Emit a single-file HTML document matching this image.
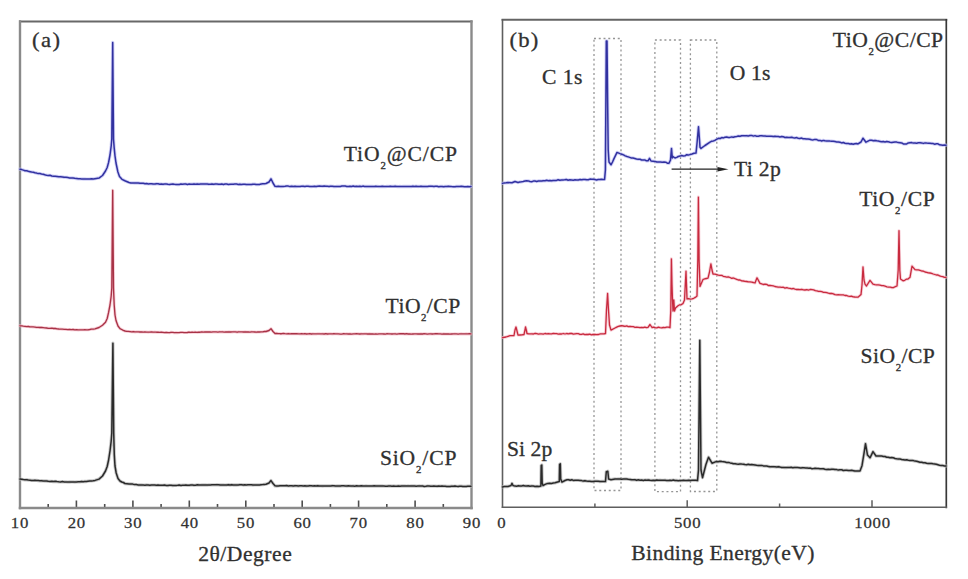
<!DOCTYPE html><html><head><meta charset="utf-8"><style>html,body{margin:0;padding:0;background:#fff;}svg{display:block;font-family:"Liberation Serif",serif;}</style></head><body>
<svg width="968" height="579" viewBox="0 0 968 579">
<rect width="968" height="579" fill="#fff"/>
<line x1="48.2" y1="508" x2="48.2" y2="504" stroke="#4e4e4e" stroke-width="1.6"/>
<line x1="76.4" y1="508" x2="76.4" y2="500.5" stroke="#4e4e4e" stroke-width="1.6"/>
<line x1="104.7" y1="508" x2="104.7" y2="504" stroke="#4e4e4e" stroke-width="1.6"/>
<line x1="132.9" y1="508" x2="132.9" y2="500.5" stroke="#4e4e4e" stroke-width="1.6"/>
<line x1="161.1" y1="508" x2="161.1" y2="504" stroke="#4e4e4e" stroke-width="1.6"/>
<line x1="189.3" y1="508" x2="189.3" y2="500.5" stroke="#4e4e4e" stroke-width="1.6"/>
<line x1="217.5" y1="508" x2="217.5" y2="504" stroke="#4e4e4e" stroke-width="1.6"/>
<line x1="245.8" y1="508" x2="245.8" y2="500.5" stroke="#4e4e4e" stroke-width="1.6"/>
<line x1="274.0" y1="508" x2="274.0" y2="504" stroke="#4e4e4e" stroke-width="1.6"/>
<line x1="302.2" y1="508" x2="302.2" y2="500.5" stroke="#4e4e4e" stroke-width="1.6"/>
<line x1="330.4" y1="508" x2="330.4" y2="504" stroke="#4e4e4e" stroke-width="1.6"/>
<line x1="358.6" y1="508" x2="358.6" y2="500.5" stroke="#4e4e4e" stroke-width="1.6"/>
<line x1="386.8" y1="508" x2="386.8" y2="504" stroke="#4e4e4e" stroke-width="1.6"/>
<line x1="415.1" y1="508" x2="415.1" y2="500.5" stroke="#4e4e4e" stroke-width="1.6"/>
<line x1="443.3" y1="508" x2="443.3" y2="504" stroke="#4e4e4e" stroke-width="1.6"/>
<line x1="20" y1="21.5" x2="471.5" y2="21.5" stroke="#686868" stroke-width="1.9" stroke-linecap="square"/>
<line x1="20" y1="21.5" x2="20" y2="508" stroke="#8a8a8a" stroke-width="2.4" stroke-linecap="square"/>
<line x1="471.5" y1="21.5" x2="471.5" y2="508" stroke="#8a8a8a" stroke-width="2.4" stroke-linecap="square"/>
<line x1="20" y1="508" x2="471.5" y2="508" stroke="#8a8a8a" stroke-width="2.5" stroke-linecap="square"/>
<line x1="594.9" y1="507.3" x2="594.9" y2="503.5" stroke="#5e5e5e" stroke-width="1.5"/>
<line x1="687.2" y1="507.3" x2="687.2" y2="500.3" stroke="#5e5e5e" stroke-width="1.5"/>
<line x1="779.6" y1="507.3" x2="779.6" y2="503.5" stroke="#5e5e5e" stroke-width="1.5"/>
<line x1="872.0" y1="507.3" x2="872.0" y2="500.3" stroke="#5e5e5e" stroke-width="1.5"/>
<line x1="502.5" y1="19.8" x2="946.3" y2="19.8" stroke="#646464" stroke-width="1.9" stroke-linecap="square"/>
<line x1="502.5" y1="19.8" x2="502.5" y2="507.3" stroke="#5e5e5e" stroke-width="1.6" stroke-linecap="square"/>
<line x1="946.3" y1="19.8" x2="946.3" y2="507.3" stroke="#383838" stroke-width="1.7" stroke-linecap="square"/>
<line x1="502.5" y1="507.3" x2="946.3" y2="507.3" stroke="#5e5e5e" stroke-width="1.6" stroke-linecap="square"/>
<rect x="594" y="38.5" width="27" height="452" fill="none" stroke="#959595" stroke-width="1.3" stroke-dasharray="2 2.75"/>
<rect x="654.9" y="40" width="25.6" height="451.6" fill="none" stroke="#959595" stroke-width="1.3" stroke-dasharray="2 2.75"/>
<rect x="690.4" y="40" width="26.4" height="451.5" fill="none" stroke="#959595" stroke-width="1.3" stroke-dasharray="2 2.75"/>
<polyline points="20.0,169.2 21.7,169.6 23.3,170.1 25.0,170.7 26.7,170.8 28.3,171.3 30.0,171.7 31.6,172.1 33.3,172.2 34.9,172.7 36.6,173.1 38.2,173.6 39.9,173.6 41.5,174.0 43.2,174.3 44.8,174.8 46.5,175.2 48.3,175.4 50.0,175.3 51.8,176.0 53.5,176.2 55.3,176.3 57.0,176.5 58.8,176.8 60.6,176.7 62.4,176.9 64.2,177.3 66.0,177.3 67.8,177.5 69.6,177.9 71.3,177.9 73.1,178.0 74.8,178.3 76.5,178.5 78.3,178.8 80.0,178.8 81.6,178.9 83.3,179.0 84.9,179.0 86.6,179.1 88.2,179.1 89.9,179.0 91.6,178.8 93.3,179.0 95.0,178.7 99.3,177.9 102.5,175.5 105.5,171.0 107.2,167.5 108.6,162.4 110.0,155.0 111.2,146.0 111.8,139.0 112.7,42.5 113.5,139.0 114.2,148.0 115.0,156.0 116.0,163.0 117.9,172.0 119.5,176.5 122.0,179.3 125.4,181.0 129.0,182.5 130.8,182.9 132.7,182.9 134.5,183.0 136.3,182.9 138.2,183.0 140.0,183.3 141.7,183.3 143.3,183.3 145.0,183.7 146.7,183.6 148.3,183.9 150.0,183.8 151.6,183.8 153.2,184.1 154.9,184.1 156.5,183.7 158.1,183.8 159.8,184.2 161.4,184.0 163.0,184.3 164.6,184.1 166.2,184.0 167.9,184.3 169.5,184.4 171.1,184.2 172.8,184.1 174.4,184.3 176.0,184.4 177.6,184.6 179.3,184.5 180.9,184.1 182.6,184.2 184.2,184.1 185.8,184.0 187.5,184.4 189.1,184.1 190.8,184.2 192.4,184.2 194.0,184.0 195.7,184.2 197.3,183.9 198.9,184.2 200.6,183.9 202.2,184.0 203.9,183.9 205.5,184.0 207.1,183.9 208.8,184.3 210.4,184.2 212.0,184.0 213.7,184.3 215.3,184.0 216.9,184.1 218.6,184.3 220.2,184.3 221.8,184.0 223.5,184.5 225.1,184.1 226.7,184.1 228.4,184.4 230.0,184.3 231.6,184.2 233.3,184.2 234.9,184.1 236.6,184.1 238.2,184.4 239.8,184.2 241.5,184.4 243.1,184.3 244.8,184.3 246.4,184.6 248.0,184.4 249.7,184.4 251.3,184.6 252.9,184.2 254.6,184.2 256.2,184.6 257.9,184.6 259.5,184.4 261.1,184.0 262.8,183.8 264.4,183.8 266.0,183.5 269.0,182.0 271.0,178.8 273.0,183.0 275.0,186.3 276.7,186.5 278.3,186.2 280.0,186.5 281.7,186.5 283.3,186.4 285.0,186.3 286.7,186.1 288.3,186.1 290.0,186.6 291.7,186.2 293.3,186.5 295.0,186.3 296.7,186.5 298.3,186.4 300.0,186.4 301.6,186.3 303.2,186.2 304.8,186.5 306.5,186.2 308.1,186.2 309.7,186.4 311.3,186.6 312.9,186.4 314.5,186.3 316.1,186.6 317.7,186.2 319.4,186.1 321.0,186.2 322.6,186.3 324.2,186.1 325.8,186.2 327.4,186.3 329.0,186.4 330.6,186.2 332.3,186.3 333.9,186.5 335.5,186.6 337.1,186.4 338.7,186.4 340.3,186.4 341.9,186.1 343.5,186.1 345.2,186.1 346.8,186.5 348.4,186.4 350.0,186.3 351.6,186.5 353.2,186.1 354.8,186.4 356.5,186.3 358.1,186.4 359.7,186.2 361.3,186.6 362.9,186.1 364.5,186.4 366.1,186.5 367.7,186.5 369.4,186.5 371.0,186.4 372.6,186.5 374.2,186.6 375.8,186.3 377.4,186.4 379.0,186.6 380.6,186.5 382.3,186.3 383.9,186.5 385.5,186.6 387.1,186.4 388.7,186.4 390.3,186.3 391.9,186.4 393.5,186.4 395.2,186.2 396.8,186.5 398.4,186.6 400.0,186.4 401.6,186.6 403.2,186.5 404.8,186.4 406.5,186.5 408.1,186.5 409.7,186.4 411.3,186.6 412.9,186.2 414.5,186.5 416.1,186.2 417.8,186.5 419.4,186.4 421.0,186.3 422.6,186.5 424.2,186.4 425.8,186.5 427.4,186.6 429.0,186.3 430.7,186.2 432.3,186.3 433.9,186.5 435.5,186.3 437.1,186.3 438.7,186.7 440.3,186.5 442.0,186.4 443.6,186.7 445.2,186.4 446.8,186.5 448.4,186.3 450.0,186.4 451.6,186.6 453.2,186.7 454.9,186.7 456.5,186.4 458.1,186.5 459.7,186.4 461.3,186.3 462.9,186.5 464.5,186.7 466.2,186.7 467.8,186.6 469.4,186.7 471.0,186.5" fill="none" stroke="#bcbcf2" stroke-width="3.3" stroke-linejoin="round" stroke-linecap="round" opacity="0.7"/><polyline points="20.0,169.2 21.7,169.6 23.3,170.1 25.0,170.7 26.7,170.8 28.3,171.3 30.0,171.7 31.6,172.1 33.3,172.2 34.9,172.7 36.6,173.1 38.2,173.6 39.9,173.6 41.5,174.0 43.2,174.3 44.8,174.8 46.5,175.2 48.3,175.4 50.0,175.3 51.8,176.0 53.5,176.2 55.3,176.3 57.0,176.5 58.8,176.8 60.6,176.7 62.4,176.9 64.2,177.3 66.0,177.3 67.8,177.5 69.6,177.9 71.3,177.9 73.1,178.0 74.8,178.3 76.5,178.5 78.3,178.8 80.0,178.8 81.6,178.9 83.3,179.0 84.9,179.0 86.6,179.1 88.2,179.1 89.9,179.0 91.6,178.8 93.3,179.0 95.0,178.7 99.3,177.9 102.5,175.5 105.5,171.0 107.2,167.5 108.6,162.4 110.0,155.0 111.2,146.0 111.8,139.0 112.7,42.5 113.5,139.0 114.2,148.0 115.0,156.0 116.0,163.0 117.9,172.0 119.5,176.5 122.0,179.3 125.4,181.0 129.0,182.5 130.8,182.9 132.7,182.9 134.5,183.0 136.3,182.9 138.2,183.0 140.0,183.3 141.7,183.3 143.3,183.3 145.0,183.7 146.7,183.6 148.3,183.9 150.0,183.8 151.6,183.8 153.2,184.1 154.9,184.1 156.5,183.7 158.1,183.8 159.8,184.2 161.4,184.0 163.0,184.3 164.6,184.1 166.2,184.0 167.9,184.3 169.5,184.4 171.1,184.2 172.8,184.1 174.4,184.3 176.0,184.4 177.6,184.6 179.3,184.5 180.9,184.1 182.6,184.2 184.2,184.1 185.8,184.0 187.5,184.4 189.1,184.1 190.8,184.2 192.4,184.2 194.0,184.0 195.7,184.2 197.3,183.9 198.9,184.2 200.6,183.9 202.2,184.0 203.9,183.9 205.5,184.0 207.1,183.9 208.8,184.3 210.4,184.2 212.0,184.0 213.7,184.3 215.3,184.0 216.9,184.1 218.6,184.3 220.2,184.3 221.8,184.0 223.5,184.5 225.1,184.1 226.7,184.1 228.4,184.4 230.0,184.3 231.6,184.2 233.3,184.2 234.9,184.1 236.6,184.1 238.2,184.4 239.8,184.2 241.5,184.4 243.1,184.3 244.8,184.3 246.4,184.6 248.0,184.4 249.7,184.4 251.3,184.6 252.9,184.2 254.6,184.2 256.2,184.6 257.9,184.6 259.5,184.4 261.1,184.0 262.8,183.8 264.4,183.8 266.0,183.5 269.0,182.0 271.0,178.8 273.0,183.0 275.0,186.3 276.7,186.5 278.3,186.2 280.0,186.5 281.7,186.5 283.3,186.4 285.0,186.3 286.7,186.1 288.3,186.1 290.0,186.6 291.7,186.2 293.3,186.5 295.0,186.3 296.7,186.5 298.3,186.4 300.0,186.4 301.6,186.3 303.2,186.2 304.8,186.5 306.5,186.2 308.1,186.2 309.7,186.4 311.3,186.6 312.9,186.4 314.5,186.3 316.1,186.6 317.7,186.2 319.4,186.1 321.0,186.2 322.6,186.3 324.2,186.1 325.8,186.2 327.4,186.3 329.0,186.4 330.6,186.2 332.3,186.3 333.9,186.5 335.5,186.6 337.1,186.4 338.7,186.4 340.3,186.4 341.9,186.1 343.5,186.1 345.2,186.1 346.8,186.5 348.4,186.4 350.0,186.3 351.6,186.5 353.2,186.1 354.8,186.4 356.5,186.3 358.1,186.4 359.7,186.2 361.3,186.6 362.9,186.1 364.5,186.4 366.1,186.5 367.7,186.5 369.4,186.5 371.0,186.4 372.6,186.5 374.2,186.6 375.8,186.3 377.4,186.4 379.0,186.6 380.6,186.5 382.3,186.3 383.9,186.5 385.5,186.6 387.1,186.4 388.7,186.4 390.3,186.3 391.9,186.4 393.5,186.4 395.2,186.2 396.8,186.5 398.4,186.6 400.0,186.4 401.6,186.6 403.2,186.5 404.8,186.4 406.5,186.5 408.1,186.5 409.7,186.4 411.3,186.6 412.9,186.2 414.5,186.5 416.1,186.2 417.8,186.5 419.4,186.4 421.0,186.3 422.6,186.5 424.2,186.4 425.8,186.5 427.4,186.6 429.0,186.3 430.7,186.2 432.3,186.3 433.9,186.5 435.5,186.3 437.1,186.3 438.7,186.7 440.3,186.5 442.0,186.4 443.6,186.7 445.2,186.4 446.8,186.5 448.4,186.3 450.0,186.4 451.6,186.6 453.2,186.7 454.9,186.7 456.5,186.4 458.1,186.5 459.7,186.4 461.3,186.3 462.9,186.5 464.5,186.7 466.2,186.7 467.8,186.6 469.4,186.7 471.0,186.5" fill="none" stroke="#3131a0" stroke-width="1.5" stroke-linejoin="round" stroke-linecap="round"/>
<polyline points="20.0,325.8 21.7,325.9 23.3,326.2 25.0,326.4 26.7,326.6 28.3,326.5 30.0,326.8 31.6,326.8 33.3,326.9 34.9,327.1 36.6,327.4 38.2,327.3 39.9,327.5 41.5,327.5 43.2,327.7 44.8,327.9 46.5,328.0 48.3,328.3 50.0,328.3 51.8,328.2 53.5,328.5 55.3,328.5 57.0,328.8 58.8,329.0 60.6,329.1 62.4,329.2 64.2,329.3 66.0,329.4 67.8,329.6 69.6,329.5 71.3,329.7 73.1,329.5 74.8,329.8 76.5,329.7 78.3,329.9 80.0,329.8 81.6,329.8 83.2,329.8 84.8,329.7 86.4,329.8 88.0,329.8 89.8,329.5 91.5,329.1 93.2,329.2 95.0,328.8 99.0,327.5 102.5,325.3 105.5,322.3 107.2,318.5 108.6,312.4 110.0,305.0 111.2,296.0 111.8,288.0 112.7,190.3 113.5,288.0 114.2,305.0 115.0,315.0 116.0,320.5 118.0,326.0 120.0,328.6 121.7,329.5 123.3,330.4 125.0,331.0 126.7,331.3 128.3,331.4 130.0,331.6 131.7,331.8 133.3,331.6 135.0,331.9 136.7,331.8 138.3,331.8 140.0,332.0 141.6,331.9 143.3,332.1 144.9,332.0 146.5,332.1 148.2,332.2 149.8,332.1 151.5,332.0 153.1,332.2 154.7,332.1 156.4,332.2 158.0,332.2 159.6,332.3 161.3,332.2 162.9,332.4 164.5,332.6 166.2,332.4 167.8,332.6 169.5,332.7 171.1,332.3 172.7,332.4 174.4,332.7 176.0,332.6 177.6,332.7 179.2,332.6 180.8,332.4 182.4,332.4 184.1,332.6 185.7,332.6 187.3,332.5 188.9,332.2 190.5,332.4 192.1,332.2 193.7,332.3 195.3,332.1 196.9,332.4 198.6,332.2 200.2,332.2 201.8,332.0 203.4,332.1 205.0,332.0 206.6,332.0 208.2,332.0 209.8,331.9 211.4,332.1 213.0,331.9 214.6,331.9 216.2,331.9 217.8,332.1 219.4,331.8 221.0,331.9 222.6,331.8 224.2,332.1 225.8,332.0 227.4,332.0 229.0,331.8 230.6,332.0 232.2,331.9 233.9,331.8 235.5,331.8 237.1,332.2 238.7,331.8 240.3,331.9 241.9,331.9 243.5,332.0 245.1,331.8 246.7,332.0 248.3,331.9 249.9,332.1 251.5,331.8 253.1,331.9 254.7,332.0 256.3,332.2 257.9,332.0 259.5,332.0 261.1,331.9 262.8,331.8 264.4,331.5 266.0,331.5 269.0,330.5 271.0,328.7 273.0,331.5 275.0,333.5 276.7,333.3 278.3,333.6 280.0,333.7 281.7,333.7 283.3,333.5 285.0,333.7 286.7,333.8 288.3,333.6 290.0,333.8 291.7,333.7 293.3,333.7 295.0,333.7 296.7,333.7 298.3,333.8 300.0,333.9 301.6,333.7 303.2,333.9 304.8,333.7 306.5,334.0 308.1,333.9 309.7,333.7 311.3,334.0 312.9,333.8 314.5,333.9 316.1,333.9 317.7,333.8 319.4,333.8 321.0,333.9 322.6,333.8 324.2,334.0 325.8,333.7 327.4,334.0 329.0,333.8 330.7,333.8 332.3,333.9 333.9,333.7 335.5,333.8 337.1,333.8 338.7,333.9 340.3,334.1 341.9,334.1 343.6,333.7 345.2,333.9 346.8,333.8 348.4,334.0 350.0,333.8 351.6,334.1 353.2,333.9 354.8,333.8 356.5,333.7 358.1,333.8 359.7,334.0 361.3,333.8 362.9,333.9 364.5,333.8 366.1,333.8 367.8,334.0 369.4,333.8 371.0,334.0 372.6,334.0 374.2,334.1 375.8,333.9 377.4,334.1 379.0,333.9 380.7,333.9 382.3,333.9 383.9,334.0 385.5,334.1 387.1,333.7 388.7,333.8 390.3,333.9 392.0,334.0 393.6,333.9 395.2,333.8 396.8,334.1 398.4,333.8 400.0,333.7 401.6,333.7 403.2,333.7 404.9,334.0 406.5,333.7 408.1,334.0 409.7,334.0 411.3,334.1 412.9,334.0 414.5,333.9 416.2,333.9 417.8,334.0 419.4,334.0 421.0,333.8 422.6,334.0 424.2,333.7 425.8,333.8 427.4,334.1 429.1,333.9 430.7,333.8 432.3,334.0 433.9,333.9 435.5,333.7 437.1,333.7 438.7,333.8 440.3,333.8 442.0,334.1 443.6,333.8 445.2,334.0 446.8,334.0 448.4,333.9 450.0,334.1 451.6,334.0 453.3,333.9 454.9,333.8 456.5,333.9 458.1,334.1 459.7,333.9 461.3,333.8 462.9,333.9 464.5,333.9 466.2,333.8 467.8,333.9 469.4,333.7 471.0,333.9" fill="none" stroke="#f4b8c4" stroke-width="3.0" stroke-linejoin="round" stroke-linecap="round" opacity="0.7"/><polyline points="20.0,325.8 21.7,325.9 23.3,326.2 25.0,326.4 26.7,326.6 28.3,326.5 30.0,326.8 31.6,326.8 33.3,326.9 34.9,327.1 36.6,327.4 38.2,327.3 39.9,327.5 41.5,327.5 43.2,327.7 44.8,327.9 46.5,328.0 48.3,328.3 50.0,328.3 51.8,328.2 53.5,328.5 55.3,328.5 57.0,328.8 58.8,329.0 60.6,329.1 62.4,329.2 64.2,329.3 66.0,329.4 67.8,329.6 69.6,329.5 71.3,329.7 73.1,329.5 74.8,329.8 76.5,329.7 78.3,329.9 80.0,329.8 81.6,329.8 83.2,329.8 84.8,329.7 86.4,329.8 88.0,329.8 89.8,329.5 91.5,329.1 93.2,329.2 95.0,328.8 99.0,327.5 102.5,325.3 105.5,322.3 107.2,318.5 108.6,312.4 110.0,305.0 111.2,296.0 111.8,288.0 112.7,190.3 113.5,288.0 114.2,305.0 115.0,315.0 116.0,320.5 118.0,326.0 120.0,328.6 121.7,329.5 123.3,330.4 125.0,331.0 126.7,331.3 128.3,331.4 130.0,331.6 131.7,331.8 133.3,331.6 135.0,331.9 136.7,331.8 138.3,331.8 140.0,332.0 141.6,331.9 143.3,332.1 144.9,332.0 146.5,332.1 148.2,332.2 149.8,332.1 151.5,332.0 153.1,332.2 154.7,332.1 156.4,332.2 158.0,332.2 159.6,332.3 161.3,332.2 162.9,332.4 164.5,332.6 166.2,332.4 167.8,332.6 169.5,332.7 171.1,332.3 172.7,332.4 174.4,332.7 176.0,332.6 177.6,332.7 179.2,332.6 180.8,332.4 182.4,332.4 184.1,332.6 185.7,332.6 187.3,332.5 188.9,332.2 190.5,332.4 192.1,332.2 193.7,332.3 195.3,332.1 196.9,332.4 198.6,332.2 200.2,332.2 201.8,332.0 203.4,332.1 205.0,332.0 206.6,332.0 208.2,332.0 209.8,331.9 211.4,332.1 213.0,331.9 214.6,331.9 216.2,331.9 217.8,332.1 219.4,331.8 221.0,331.9 222.6,331.8 224.2,332.1 225.8,332.0 227.4,332.0 229.0,331.8 230.6,332.0 232.2,331.9 233.9,331.8 235.5,331.8 237.1,332.2 238.7,331.8 240.3,331.9 241.9,331.9 243.5,332.0 245.1,331.8 246.7,332.0 248.3,331.9 249.9,332.1 251.5,331.8 253.1,331.9 254.7,332.0 256.3,332.2 257.9,332.0 259.5,332.0 261.1,331.9 262.8,331.8 264.4,331.5 266.0,331.5 269.0,330.5 271.0,328.7 273.0,331.5 275.0,333.5 276.7,333.3 278.3,333.6 280.0,333.7 281.7,333.7 283.3,333.5 285.0,333.7 286.7,333.8 288.3,333.6 290.0,333.8 291.7,333.7 293.3,333.7 295.0,333.7 296.7,333.7 298.3,333.8 300.0,333.9 301.6,333.7 303.2,333.9 304.8,333.7 306.5,334.0 308.1,333.9 309.7,333.7 311.3,334.0 312.9,333.8 314.5,333.9 316.1,333.9 317.7,333.8 319.4,333.8 321.0,333.9 322.6,333.8 324.2,334.0 325.8,333.7 327.4,334.0 329.0,333.8 330.7,333.8 332.3,333.9 333.9,333.7 335.5,333.8 337.1,333.8 338.7,333.9 340.3,334.1 341.9,334.1 343.6,333.7 345.2,333.9 346.8,333.8 348.4,334.0 350.0,333.8 351.6,334.1 353.2,333.9 354.8,333.8 356.5,333.7 358.1,333.8 359.7,334.0 361.3,333.8 362.9,333.9 364.5,333.8 366.1,333.8 367.8,334.0 369.4,333.8 371.0,334.0 372.6,334.0 374.2,334.1 375.8,333.9 377.4,334.1 379.0,333.9 380.7,333.9 382.3,333.9 383.9,334.0 385.5,334.1 387.1,333.7 388.7,333.8 390.3,333.9 392.0,334.0 393.6,333.9 395.2,333.8 396.8,334.1 398.4,333.8 400.0,333.7 401.6,333.7 403.2,333.7 404.9,334.0 406.5,333.7 408.1,334.0 409.7,334.0 411.3,334.1 412.9,334.0 414.5,333.9 416.2,333.9 417.8,334.0 419.4,334.0 421.0,333.8 422.6,334.0 424.2,333.7 425.8,333.8 427.4,334.1 429.1,333.9 430.7,333.8 432.3,334.0 433.9,333.9 435.5,333.7 437.1,333.7 438.7,333.8 440.3,333.8 442.0,334.1 443.6,333.8 445.2,334.0 446.8,334.0 448.4,333.9 450.0,334.1 451.6,334.0 453.3,333.9 454.9,333.8 456.5,333.9 458.1,334.1 459.7,333.9 461.3,333.8 462.9,333.9 464.5,333.9 466.2,333.8 467.8,333.9 469.4,333.7 471.0,333.9" fill="none" stroke="#a83246" stroke-width="1.35" stroke-linejoin="round" stroke-linecap="round"/>
<polyline points="20.0,479.1 21.7,479.3 23.3,479.6 25.0,479.8 26.7,479.7 28.3,480.1 30.0,480.2 31.6,480.4 33.3,480.4 34.9,480.3 36.6,480.4 38.2,480.6 39.9,480.8 41.5,480.7 43.2,480.9 44.8,481.0 46.5,481.0 48.3,481.3 50.0,481.4 51.8,481.3 53.5,481.6 55.3,481.3 57.0,481.6 58.8,481.8 60.6,481.9 62.4,481.6 64.2,481.9 66.0,481.9 67.8,482.1 69.6,482.0 71.3,481.9 73.1,481.9 74.8,482.1 76.5,481.9 78.3,481.8 80.0,481.8 81.6,481.5 83.2,481.7 84.8,481.4 86.4,481.5 88.0,481.2 89.8,480.9 91.5,480.9 93.2,480.7 95.0,480.4 99.0,479.1 102.5,476.0 105.5,471.0 107.2,466.5 108.6,460.0 110.0,451.0 111.2,441.0 111.8,433.0 112.9,343.2 113.7,433.0 114.3,455.0 115.0,466.0 116.2,473.0 118.0,478.5 120.0,481.0 121.7,482.0 123.3,482.5 125.0,483.5 129.0,483.9 130.8,484.0 132.7,484.1 134.5,484.6 136.3,484.6 138.2,485.0 140.0,485.0 141.6,485.0 143.3,485.1 144.9,485.2 146.5,485.0 148.2,485.1 149.8,485.3 151.5,485.1 153.1,485.1 154.7,485.1 156.4,485.3 158.0,485.1 159.6,485.3 161.3,485.3 162.9,485.3 164.5,485.1 166.2,485.4 167.8,485.5 169.5,485.3 171.1,485.3 172.7,485.5 174.4,485.4 176.0,485.4 177.6,485.3 179.3,485.1 180.9,485.4 182.6,485.2 184.2,485.2 185.8,485.1 187.5,485.3 189.1,485.3 190.8,485.1 192.4,485.0 194.0,485.3 195.7,485.2 197.3,484.8 198.9,485.0 200.6,485.1 202.2,484.9 203.9,485.0 205.5,484.9 207.1,485.1 208.8,484.9 210.4,484.9 212.0,484.8 213.7,484.8 215.3,484.8 217.0,484.7 218.6,484.8 220.2,485.0 221.9,484.9 223.5,485.0 225.1,485.1 226.8,485.0 228.4,484.7 230.0,485.1 231.7,484.7 233.3,485.0 235.0,485.0 236.6,485.0 238.2,484.9 239.9,484.7 241.5,484.7 243.1,485.0 244.8,484.8 246.4,484.9 248.0,484.8 249.7,484.8 251.3,484.8 253.0,485.0 254.6,484.9 256.2,484.9 257.9,484.9 259.5,484.9 261.1,484.7 262.8,484.6 264.4,484.4 266.0,484.2 269.0,483.0 271.0,480.6 273.0,483.5 275.0,485.8 276.7,486.0 278.3,485.9 280.0,485.7 281.7,485.7 283.3,485.7 285.0,485.7 286.7,485.6 288.3,485.9 290.0,485.8 291.7,485.8 293.3,486.0 295.0,485.7 296.7,485.8 298.3,486.0 300.0,485.8 301.6,485.8 303.2,485.9 304.8,485.8 306.5,486.0 308.1,485.9 309.7,485.7 311.3,485.8 312.9,485.9 314.5,485.8 316.1,485.9 317.7,485.7 319.4,485.9 321.0,485.9 322.6,486.0 324.2,485.9 325.8,485.9 327.4,485.9 329.0,485.9 330.7,485.9 332.3,485.7 333.9,485.8 335.5,486.1 337.1,486.0 338.7,485.9 340.3,486.0 341.9,485.8 343.6,485.8 345.2,485.9 346.8,486.0 348.4,485.8 350.0,485.9 351.6,486.1 353.2,486.0 354.8,486.2 356.5,485.8 358.1,486.1 359.7,486.1 361.3,485.8 362.9,486.0 364.5,486.1 366.1,485.9 367.8,486.1 369.4,486.1 371.0,486.1 372.6,486.0 374.2,485.8 375.8,486.0 377.4,485.9 379.0,486.0 380.7,485.9 382.3,486.0 383.9,486.1 385.5,486.2 387.1,486.2 388.7,486.0 390.3,485.9 392.0,486.2 393.6,486.0 395.2,486.2 396.8,486.2 398.4,485.9 400.0,486.2 401.6,486.0 403.2,486.0 404.9,486.0 406.5,486.1 408.1,486.0 409.7,486.1 411.3,486.0 412.9,486.0 414.5,486.0 416.2,486.2 417.8,486.1 419.4,486.0 421.0,486.1 422.6,486.0 424.2,486.4 425.8,486.3 427.4,486.0 429.1,486.1 430.7,486.2 432.3,486.2 433.9,486.1 435.5,486.2 437.1,486.3 438.7,486.1 440.3,486.2 442.0,486.1 443.6,486.2 445.2,486.2 446.8,486.4 448.4,486.4 450.0,486.4 451.6,486.2 453.3,486.3 454.9,486.1 456.5,486.3 458.1,486.4 459.7,486.2 461.3,486.2 462.9,486.4 464.5,486.4 466.2,486.4 467.8,486.2 469.4,486.2 471.0,486.3" fill="none" stroke="#b0b0b0" stroke-width="3.3" stroke-linejoin="round" stroke-linecap="round" opacity="0.7"/><polyline points="20.0,479.1 21.7,479.3 23.3,479.6 25.0,479.8 26.7,479.7 28.3,480.1 30.0,480.2 31.6,480.4 33.3,480.4 34.9,480.3 36.6,480.4 38.2,480.6 39.9,480.8 41.5,480.7 43.2,480.9 44.8,481.0 46.5,481.0 48.3,481.3 50.0,481.4 51.8,481.3 53.5,481.6 55.3,481.3 57.0,481.6 58.8,481.8 60.6,481.9 62.4,481.6 64.2,481.9 66.0,481.9 67.8,482.1 69.6,482.0 71.3,481.9 73.1,481.9 74.8,482.1 76.5,481.9 78.3,481.8 80.0,481.8 81.6,481.5 83.2,481.7 84.8,481.4 86.4,481.5 88.0,481.2 89.8,480.9 91.5,480.9 93.2,480.7 95.0,480.4 99.0,479.1 102.5,476.0 105.5,471.0 107.2,466.5 108.6,460.0 110.0,451.0 111.2,441.0 111.8,433.0 112.9,343.2 113.7,433.0 114.3,455.0 115.0,466.0 116.2,473.0 118.0,478.5 120.0,481.0 121.7,482.0 123.3,482.5 125.0,483.5 129.0,483.9 130.8,484.0 132.7,484.1 134.5,484.6 136.3,484.6 138.2,485.0 140.0,485.0 141.6,485.0 143.3,485.1 144.9,485.2 146.5,485.0 148.2,485.1 149.8,485.3 151.5,485.1 153.1,485.1 154.7,485.1 156.4,485.3 158.0,485.1 159.6,485.3 161.3,485.3 162.9,485.3 164.5,485.1 166.2,485.4 167.8,485.5 169.5,485.3 171.1,485.3 172.7,485.5 174.4,485.4 176.0,485.4 177.6,485.3 179.3,485.1 180.9,485.4 182.6,485.2 184.2,485.2 185.8,485.1 187.5,485.3 189.1,485.3 190.8,485.1 192.4,485.0 194.0,485.3 195.7,485.2 197.3,484.8 198.9,485.0 200.6,485.1 202.2,484.9 203.9,485.0 205.5,484.9 207.1,485.1 208.8,484.9 210.4,484.9 212.0,484.8 213.7,484.8 215.3,484.8 217.0,484.7 218.6,484.8 220.2,485.0 221.9,484.9 223.5,485.0 225.1,485.1 226.8,485.0 228.4,484.7 230.0,485.1 231.7,484.7 233.3,485.0 235.0,485.0 236.6,485.0 238.2,484.9 239.9,484.7 241.5,484.7 243.1,485.0 244.8,484.8 246.4,484.9 248.0,484.8 249.7,484.8 251.3,484.8 253.0,485.0 254.6,484.9 256.2,484.9 257.9,484.9 259.5,484.9 261.1,484.7 262.8,484.6 264.4,484.4 266.0,484.2 269.0,483.0 271.0,480.6 273.0,483.5 275.0,485.8 276.7,486.0 278.3,485.9 280.0,485.7 281.7,485.7 283.3,485.7 285.0,485.7 286.7,485.6 288.3,485.9 290.0,485.8 291.7,485.8 293.3,486.0 295.0,485.7 296.7,485.8 298.3,486.0 300.0,485.8 301.6,485.8 303.2,485.9 304.8,485.8 306.5,486.0 308.1,485.9 309.7,485.7 311.3,485.8 312.9,485.9 314.5,485.8 316.1,485.9 317.7,485.7 319.4,485.9 321.0,485.9 322.6,486.0 324.2,485.9 325.8,485.9 327.4,485.9 329.0,485.9 330.7,485.9 332.3,485.7 333.9,485.8 335.5,486.1 337.1,486.0 338.7,485.9 340.3,486.0 341.9,485.8 343.6,485.8 345.2,485.9 346.8,486.0 348.4,485.8 350.0,485.9 351.6,486.1 353.2,486.0 354.8,486.2 356.5,485.8 358.1,486.1 359.7,486.1 361.3,485.8 362.9,486.0 364.5,486.1 366.1,485.9 367.8,486.1 369.4,486.1 371.0,486.1 372.6,486.0 374.2,485.8 375.8,486.0 377.4,485.9 379.0,486.0 380.7,485.9 382.3,486.0 383.9,486.1 385.5,486.2 387.1,486.2 388.7,486.0 390.3,485.9 392.0,486.2 393.6,486.0 395.2,486.2 396.8,486.2 398.4,485.9 400.0,486.2 401.6,486.0 403.2,486.0 404.9,486.0 406.5,486.1 408.1,486.0 409.7,486.1 411.3,486.0 412.9,486.0 414.5,486.0 416.2,486.2 417.8,486.1 419.4,486.0 421.0,486.1 422.6,486.0 424.2,486.4 425.8,486.3 427.4,486.0 429.1,486.1 430.7,486.2 432.3,486.2 433.9,486.1 435.5,486.2 437.1,486.3 438.7,486.1 440.3,486.2 442.0,486.1 443.6,486.2 445.2,486.2 446.8,486.4 448.4,486.4 450.0,486.4 451.6,486.2 453.3,486.3 454.9,486.1 456.5,486.3 458.1,486.4 459.7,486.2 461.3,486.2 462.9,486.4 464.5,486.4 466.2,486.4 467.8,486.2 469.4,486.2 471.0,486.3" fill="none" stroke="#2a2a2a" stroke-width="1.5" stroke-linejoin="round" stroke-linecap="round"/>
<polyline points="502.5,183.4 504.3,182.9 506.2,182.8 508.0,182.5 512.0,182.8 515.0,181.5 518.0,182.5 519.8,182.0 521.5,181.8 523.2,181.5 525.0,181.0 526.7,180.8 528.3,180.9 530.0,181.5 531.7,181.7 533.3,181.1 535.0,181.0 536.7,181.5 538.3,181.0 540.0,180.9 541.7,181.1 543.3,180.7 545.0,180.8 546.7,180.3 548.3,180.7 550.0,180.5 551.6,180.8 553.2,180.4 554.9,180.5 556.5,180.4 558.1,179.7 559.8,180.3 561.4,180.1 563.0,179.9 564.7,179.7 566.4,179.4 568.1,180.2 569.9,179.8 571.6,180.0 573.3,180.2 575.0,179.8 576.7,179.9 578.3,180.0 580.0,179.5 581.7,179.8 583.3,179.4 585.0,179.4 586.7,179.8 588.3,179.8 590.0,179.1 591.7,179.2 593.3,179.3 595.0,179.6 596.6,180.0 598.2,179.5 599.8,179.6 601.4,179.3 603.0,179.4 604.6,179.4 605.4,170.0 605.9,100.0 606.3,41.0 607.0,41.0 607.6,100.0 608.2,150.0 609.0,162.0 611.0,164.8 612.5,162.0 614.0,158.6 617.0,152.4 620.0,153.6 621.8,154.2 623.5,154.9 625.2,155.9 627.0,156.5 629.0,157.1 631.0,157.9 633.0,158.0 634.8,158.5 636.5,159.0 638.2,159.3 640.0,159.3 641.6,160.0 643.2,160.1 644.8,159.9 646.4,160.8 648.0,160.8 649.5,158.3 651.0,161.0 655.0,161.4 656.8,162.0 658.6,162.0 660.4,161.9 662.2,162.2 664.0,162.1 665.7,162.2 667.3,163.2 669.0,163.3 670.5,160.0 671.5,148.4 672.3,158.0 673.0,156.5 675.0,158.0 676.7,157.4 678.3,156.5 680.0,156.1 681.7,155.5 683.3,155.9 685.0,155.8 686.7,154.7 688.3,155.1 690.0,154.6 692.0,154.0 694.0,153.3 696.0,153.1 697.0,143.5 698.5,126.7 699.5,140.0 700.0,147.2 701.0,148.4 705.0,145.5 710.0,142.2 711.8,141.2 713.5,140.9 715.2,140.2 717.0,139.1 718.6,138.3 720.2,138.5 721.8,137.6 723.4,137.9 725.0,137.3 726.7,137.0 728.3,137.4 730.0,137.4 731.7,136.9 733.3,137.2 735.0,136.7 736.7,136.4 738.3,136.0 740.0,136.3 741.7,135.7 743.3,135.7 745.0,135.8 746.7,135.7 748.3,135.9 750.0,135.5 751.7,135.4 753.3,136.1 755.0,135.6 756.7,136.2 758.3,136.2 760.0,135.8 761.7,135.7 763.3,135.9 765.0,136.0 766.7,136.2 768.3,136.2 770.0,136.2 771.7,136.3 773.3,136.6 775.0,136.3 776.7,136.4 778.3,136.5 780.0,136.9 781.7,136.6 783.3,136.8 785.0,137.5 786.7,137.3 788.3,137.4 790.0,137.5 791.6,137.2 793.3,137.7 794.9,138.0 796.5,137.6 798.2,138.3 799.8,138.5 801.5,138.1 803.1,138.8 804.7,138.8 806.4,139.1 808.0,139.1 809.7,139.2 811.4,139.7 813.1,139.9 814.9,139.4 816.6,139.6 818.3,140.4 820.0,140.4 821.7,141.0 823.3,140.4 825.0,140.8 826.7,141.0 828.3,140.9 830.0,141.1 831.7,141.2 833.3,141.3 835.0,141.6 836.7,141.9 838.3,141.9 840.0,142.3 841.7,142.9 843.3,142.5 845.0,143.2 846.7,143.6 848.3,143.5 850.0,143.9 851.6,143.7 853.2,144.2 854.8,143.7 856.4,143.6 858.0,143.9 861.0,142.0 863.0,138.2 866.0,142.2 870.0,140.2 871.7,140.3 873.3,140.8 875.0,140.4 876.7,140.8 878.3,141.1 880.0,141.4 881.7,141.8 883.3,141.6 885.0,142.0 886.7,141.5 888.3,141.8 890.0,142.2 891.7,142.5 893.3,142.2 895.0,142.1 896.7,142.1 898.3,142.6 900.0,142.7 901.7,142.9 903.3,143.9 905.0,144.1 906.7,143.9 908.3,142.9 910.0,142.7 911.7,142.6 913.3,143.1 915.0,143.0 916.7,143.2 918.3,142.8 920.0,142.7 921.7,142.9 923.3,143.4 925.0,142.9 926.7,143.1 928.3,143.2 930.0,143.3 931.6,143.4 933.2,143.6 934.8,144.2 936.4,143.8 938.0,143.8 939.6,144.8 941.2,145.0 942.8,145.3 944.4,145.0 946.0,145.2" fill="none" stroke="#bcbcf2" stroke-width="3.3" stroke-linejoin="round" stroke-linecap="round" opacity="0.7"/><polyline points="502.5,183.4 504.3,182.9 506.2,182.8 508.0,182.5 512.0,182.8 515.0,181.5 518.0,182.5 519.8,182.0 521.5,181.8 523.2,181.5 525.0,181.0 526.7,180.8 528.3,180.9 530.0,181.5 531.7,181.7 533.3,181.1 535.0,181.0 536.7,181.5 538.3,181.0 540.0,180.9 541.7,181.1 543.3,180.7 545.0,180.8 546.7,180.3 548.3,180.7 550.0,180.5 551.6,180.8 553.2,180.4 554.9,180.5 556.5,180.4 558.1,179.7 559.8,180.3 561.4,180.1 563.0,179.9 564.7,179.7 566.4,179.4 568.1,180.2 569.9,179.8 571.6,180.0 573.3,180.2 575.0,179.8 576.7,179.9 578.3,180.0 580.0,179.5 581.7,179.8 583.3,179.4 585.0,179.4 586.7,179.8 588.3,179.8 590.0,179.1 591.7,179.2 593.3,179.3 595.0,179.6 596.6,180.0 598.2,179.5 599.8,179.6 601.4,179.3 603.0,179.4 604.6,179.4 605.4,170.0 605.9,100.0 606.3,41.0 607.0,41.0 607.6,100.0 608.2,150.0 609.0,162.0 611.0,164.8 612.5,162.0 614.0,158.6 617.0,152.4 620.0,153.6 621.8,154.2 623.5,154.9 625.2,155.9 627.0,156.5 629.0,157.1 631.0,157.9 633.0,158.0 634.8,158.5 636.5,159.0 638.2,159.3 640.0,159.3 641.6,160.0 643.2,160.1 644.8,159.9 646.4,160.8 648.0,160.8 649.5,158.3 651.0,161.0 655.0,161.4 656.8,162.0 658.6,162.0 660.4,161.9 662.2,162.2 664.0,162.1 665.7,162.2 667.3,163.2 669.0,163.3 670.5,160.0 671.5,148.4 672.3,158.0 673.0,156.5 675.0,158.0 676.7,157.4 678.3,156.5 680.0,156.1 681.7,155.5 683.3,155.9 685.0,155.8 686.7,154.7 688.3,155.1 690.0,154.6 692.0,154.0 694.0,153.3 696.0,153.1 697.0,143.5 698.5,126.7 699.5,140.0 700.0,147.2 701.0,148.4 705.0,145.5 710.0,142.2 711.8,141.2 713.5,140.9 715.2,140.2 717.0,139.1 718.6,138.3 720.2,138.5 721.8,137.6 723.4,137.9 725.0,137.3 726.7,137.0 728.3,137.4 730.0,137.4 731.7,136.9 733.3,137.2 735.0,136.7 736.7,136.4 738.3,136.0 740.0,136.3 741.7,135.7 743.3,135.7 745.0,135.8 746.7,135.7 748.3,135.9 750.0,135.5 751.7,135.4 753.3,136.1 755.0,135.6 756.7,136.2 758.3,136.2 760.0,135.8 761.7,135.7 763.3,135.9 765.0,136.0 766.7,136.2 768.3,136.2 770.0,136.2 771.7,136.3 773.3,136.6 775.0,136.3 776.7,136.4 778.3,136.5 780.0,136.9 781.7,136.6 783.3,136.8 785.0,137.5 786.7,137.3 788.3,137.4 790.0,137.5 791.6,137.2 793.3,137.7 794.9,138.0 796.5,137.6 798.2,138.3 799.8,138.5 801.5,138.1 803.1,138.8 804.7,138.8 806.4,139.1 808.0,139.1 809.7,139.2 811.4,139.7 813.1,139.9 814.9,139.4 816.6,139.6 818.3,140.4 820.0,140.4 821.7,141.0 823.3,140.4 825.0,140.8 826.7,141.0 828.3,140.9 830.0,141.1 831.7,141.2 833.3,141.3 835.0,141.6 836.7,141.9 838.3,141.9 840.0,142.3 841.7,142.9 843.3,142.5 845.0,143.2 846.7,143.6 848.3,143.5 850.0,143.9 851.6,143.7 853.2,144.2 854.8,143.7 856.4,143.6 858.0,143.9 861.0,142.0 863.0,138.2 866.0,142.2 870.0,140.2 871.7,140.3 873.3,140.8 875.0,140.4 876.7,140.8 878.3,141.1 880.0,141.4 881.7,141.8 883.3,141.6 885.0,142.0 886.7,141.5 888.3,141.8 890.0,142.2 891.7,142.5 893.3,142.2 895.0,142.1 896.7,142.1 898.3,142.6 900.0,142.7 901.7,142.9 903.3,143.9 905.0,144.1 906.7,143.9 908.3,142.9 910.0,142.7 911.7,142.6 913.3,143.1 915.0,143.0 916.7,143.2 918.3,142.8 920.0,142.7 921.7,142.9 923.3,143.4 925.0,142.9 926.7,143.1 928.3,143.2 930.0,143.3 931.6,143.4 933.2,143.6 934.8,144.2 936.4,143.8 938.0,143.8 939.6,144.8 941.2,145.0 942.8,145.3 944.4,145.0 946.0,145.2" fill="none" stroke="#3131a0" stroke-width="1.5" stroke-linejoin="round" stroke-linecap="round"/>
<polyline points="502.5,337.6 506.0,337.0 510.0,335.7 514.0,335.5 515.0,330.0 516.0,327.0 517.0,331.0 518.0,335.1 520.0,335.0 522.0,334.9 524.0,334.5 525.0,330.0 525.5,327.0 526.3,330.0 527.0,333.5 528.6,333.8 530.2,333.9 531.9,333.8 533.5,334.0 535.1,333.3 536.8,333.7 538.4,334.1 540.0,333.8 541.7,333.9 543.3,334.1 545.0,333.5 546.7,333.8 548.3,333.6 550.0,333.8 551.7,333.9 553.3,333.4 555.0,333.6 556.7,333.6 558.3,334.1 560.0,333.8 561.7,334.0 563.3,333.5 565.0,334.0 566.7,333.5 568.3,333.9 570.0,333.5 571.7,333.4 573.3,334.1 575.0,333.8 576.6,333.6 578.3,333.7 579.9,334.4 581.5,334.4 583.2,333.9 584.8,334.6 586.5,334.3 588.1,334.5 589.7,334.1 591.4,334.8 593.0,334.5 594.8,334.5 596.7,334.6 598.5,334.5 600.3,333.9 602.2,333.8 604.0,333.8 605.5,333.5 606.5,310.0 607.6,293.5 608.5,310.0 609.5,325.0 611.0,330.1 615.0,328.0 616.7,327.1 618.3,326.4 620.0,326.0 621.7,325.7 623.3,326.0 625.0,326.3 626.7,325.9 628.3,326.6 630.0,326.5 631.7,326.6 633.3,326.7 635.0,327.3 636.7,327.2 638.3,327.3 640.0,327.6 641.6,327.5 643.2,327.6 644.8,327.1 646.4,327.7 648.0,327.3 650.0,324.5 652.0,327.5 653.6,327.1 655.2,327.7 656.8,327.8 658.4,327.2 660.0,327.6 661.7,327.8 663.3,327.5 665.0,327.7 666.7,327.2 668.3,327.2 670.0,327.6 670.8,310.0 671.4,258.8 672.0,285.0 672.5,300.0 673.0,311.0 673.8,300.0 674.5,311.0 675.5,308.0 678.0,305.8 679.7,304.8 681.3,304.6 683.0,303.5 684.5,300.0 686.0,271.2 687.0,298.9 688.7,298.7 690.3,299.1 692.0,298.9 693.7,298.3 695.3,297.4 697.0,296.1 697.8,260.0 698.4,197.1 699.1,260.0 700.0,286.4 703.0,279.5 704.7,278.9 706.3,278.5 708.0,278.1 709.5,272.0 710.9,263.8 712.0,270.0 713.0,274.0 715.0,274.1 716.7,274.6 718.3,275.2 720.0,275.4 721.7,275.4 723.3,276.3 725.0,276.7 726.7,277.1 728.3,276.8 730.0,277.5 731.7,278.3 733.3,278.0 735.0,278.7 736.7,279.3 738.3,280.0 740.0,280.0 741.7,280.9 743.3,281.0 745.0,281.4 746.7,281.5 748.3,281.8 750.0,281.9 751.7,282.1 753.3,282.5 755.0,283.0 757.0,277.8 760.0,283.4 761.7,283.9 763.3,284.5 765.0,284.2 766.7,284.4 768.3,285.5 770.0,285.5 771.7,285.7 773.3,285.9 775.0,286.5 776.7,286.8 778.3,287.2 780.0,287.1 781.7,287.3 783.3,287.2 785.0,288.1 786.7,287.6 788.3,288.2 790.0,288.4 791.7,288.8 793.3,288.5 795.0,289.1 796.7,289.5 798.3,289.4 800.0,289.7 801.7,289.3 803.3,289.8 805.0,290.0 806.8,289.6 808.5,290.1 810.2,289.5 812.0,289.6 813.6,289.9 815.3,290.7 816.9,290.9 818.5,291.4 820.2,291.3 821.8,291.7 823.5,292.3 825.1,292.4 826.7,292.6 828.4,293.1 830.0,293.5 831.7,293.4 833.3,293.8 835.0,294.6 836.7,294.8 838.3,294.7 840.0,294.8 841.7,294.9 843.3,294.9 845.0,295.5 846.6,295.5 848.2,296.2 849.9,296.4 851.5,296.2 853.1,296.8 854.8,297.0 856.4,297.1 858.0,297.2 861.0,294.6 862.0,285.0 863.0,267.0 864.0,280.0 865.0,284.2 866.5,286.0 870.0,280.4 873.0,284.2 874.8,284.6 876.5,284.9 878.2,284.8 880.0,285.1 881.7,285.6 883.4,285.7 885.1,286.2 886.9,286.8 888.6,287.1 890.3,287.2 892.0,287.7 893.7,287.5 895.3,286.7 897.0,286.0 898.2,270.0 899.0,230.7 899.8,270.0 900.5,279.0 903.0,280.8 904.7,280.3 906.3,279.2 908.0,279.0 910.0,277.3 912.0,266.1 915.0,269.6 916.7,269.9 918.3,269.9 920.0,270.4 921.7,271.0 923.3,271.2 925.0,272.0 926.7,272.3 928.3,272.8 930.0,273.0 931.6,273.3 933.2,274.0 934.8,274.5 936.4,275.0 938.0,275.0 939.6,275.9 941.2,276.3 942.8,276.6 944.4,277.3 946.0,277.3" fill="none" stroke="#f4b8c4" stroke-width="3.0" stroke-linejoin="round" stroke-linecap="round" opacity="0.7"/><polyline points="502.5,337.6 506.0,337.0 510.0,335.7 514.0,335.5 515.0,330.0 516.0,327.0 517.0,331.0 518.0,335.1 520.0,335.0 522.0,334.9 524.0,334.5 525.0,330.0 525.5,327.0 526.3,330.0 527.0,333.5 528.6,333.8 530.2,333.9 531.9,333.8 533.5,334.0 535.1,333.3 536.8,333.7 538.4,334.1 540.0,333.8 541.7,333.9 543.3,334.1 545.0,333.5 546.7,333.8 548.3,333.6 550.0,333.8 551.7,333.9 553.3,333.4 555.0,333.6 556.7,333.6 558.3,334.1 560.0,333.8 561.7,334.0 563.3,333.5 565.0,334.0 566.7,333.5 568.3,333.9 570.0,333.5 571.7,333.4 573.3,334.1 575.0,333.8 576.6,333.6 578.3,333.7 579.9,334.4 581.5,334.4 583.2,333.9 584.8,334.6 586.5,334.3 588.1,334.5 589.7,334.1 591.4,334.8 593.0,334.5 594.8,334.5 596.7,334.6 598.5,334.5 600.3,333.9 602.2,333.8 604.0,333.8 605.5,333.5 606.5,310.0 607.6,293.5 608.5,310.0 609.5,325.0 611.0,330.1 615.0,328.0 616.7,327.1 618.3,326.4 620.0,326.0 621.7,325.7 623.3,326.0 625.0,326.3 626.7,325.9 628.3,326.6 630.0,326.5 631.7,326.6 633.3,326.7 635.0,327.3 636.7,327.2 638.3,327.3 640.0,327.6 641.6,327.5 643.2,327.6 644.8,327.1 646.4,327.7 648.0,327.3 650.0,324.5 652.0,327.5 653.6,327.1 655.2,327.7 656.8,327.8 658.4,327.2 660.0,327.6 661.7,327.8 663.3,327.5 665.0,327.7 666.7,327.2 668.3,327.2 670.0,327.6 670.8,310.0 671.4,258.8 672.0,285.0 672.5,300.0 673.0,311.0 673.8,300.0 674.5,311.0 675.5,308.0 678.0,305.8 679.7,304.8 681.3,304.6 683.0,303.5 684.5,300.0 686.0,271.2 687.0,298.9 688.7,298.7 690.3,299.1 692.0,298.9 693.7,298.3 695.3,297.4 697.0,296.1 697.8,260.0 698.4,197.1 699.1,260.0 700.0,286.4 703.0,279.5 704.7,278.9 706.3,278.5 708.0,278.1 709.5,272.0 710.9,263.8 712.0,270.0 713.0,274.0 715.0,274.1 716.7,274.6 718.3,275.2 720.0,275.4 721.7,275.4 723.3,276.3 725.0,276.7 726.7,277.1 728.3,276.8 730.0,277.5 731.7,278.3 733.3,278.0 735.0,278.7 736.7,279.3 738.3,280.0 740.0,280.0 741.7,280.9 743.3,281.0 745.0,281.4 746.7,281.5 748.3,281.8 750.0,281.9 751.7,282.1 753.3,282.5 755.0,283.0 757.0,277.8 760.0,283.4 761.7,283.9 763.3,284.5 765.0,284.2 766.7,284.4 768.3,285.5 770.0,285.5 771.7,285.7 773.3,285.9 775.0,286.5 776.7,286.8 778.3,287.2 780.0,287.1 781.7,287.3 783.3,287.2 785.0,288.1 786.7,287.6 788.3,288.2 790.0,288.4 791.7,288.8 793.3,288.5 795.0,289.1 796.7,289.5 798.3,289.4 800.0,289.7 801.7,289.3 803.3,289.8 805.0,290.0 806.8,289.6 808.5,290.1 810.2,289.5 812.0,289.6 813.6,289.9 815.3,290.7 816.9,290.9 818.5,291.4 820.2,291.3 821.8,291.7 823.5,292.3 825.1,292.4 826.7,292.6 828.4,293.1 830.0,293.5 831.7,293.4 833.3,293.8 835.0,294.6 836.7,294.8 838.3,294.7 840.0,294.8 841.7,294.9 843.3,294.9 845.0,295.5 846.6,295.5 848.2,296.2 849.9,296.4 851.5,296.2 853.1,296.8 854.8,297.0 856.4,297.1 858.0,297.2 861.0,294.6 862.0,285.0 863.0,267.0 864.0,280.0 865.0,284.2 866.5,286.0 870.0,280.4 873.0,284.2 874.8,284.6 876.5,284.9 878.2,284.8 880.0,285.1 881.7,285.6 883.4,285.7 885.1,286.2 886.9,286.8 888.6,287.1 890.3,287.2 892.0,287.7 893.7,287.5 895.3,286.7 897.0,286.0 898.2,270.0 899.0,230.7 899.8,270.0 900.5,279.0 903.0,280.8 904.7,280.3 906.3,279.2 908.0,279.0 910.0,277.3 912.0,266.1 915.0,269.6 916.7,269.9 918.3,269.9 920.0,270.4 921.7,271.0 923.3,271.2 925.0,272.0 926.7,272.3 928.3,272.8 930.0,273.0 931.6,273.3 933.2,274.0 934.8,274.5 936.4,275.0 938.0,275.0 939.6,275.9 941.2,276.3 942.8,276.6 944.4,277.3 946.0,277.3" fill="none" stroke="#c82a3e" stroke-width="1.3" stroke-linejoin="round" stroke-linecap="round"/>
<polyline points="502.5,486.9 504.3,486.6 506.2,486.4 508.0,486.5 511.0,485.5 512.0,483.4 513.0,485.5 515.0,486.1 516.7,486.2 518.3,485.7 520.0,486.0 521.7,485.9 523.3,485.6 525.0,485.9 526.7,486.0 528.3,485.8 530.0,486.2 531.7,486.0 533.3,486.1 535.0,486.5 537.0,486.3 538.9,486.5 540.9,486.1 541.2,465.5 541.8,465.0 542.2,483.0 543.0,485.6 544.7,484.6 546.3,483.9 548.0,483.4 549.8,483.3 551.5,483.4 553.2,483.0 555.0,482.8 559.3,481.5 559.6,464.5 560.3,463.8 560.7,479.0 562.0,482.1 565.0,480.5 567.0,479.7 568.6,479.7 570.2,480.3 571.8,479.7 573.4,480.4 575.0,480.3 576.6,480.3 578.3,480.3 579.9,480.4 581.5,480.6 583.2,481.1 584.8,480.7 586.5,481.1 588.1,481.3 589.7,481.2 591.4,481.4 593.0,481.5 594.8,481.2 596.6,481.2 598.4,481.3 600.1,481.6 601.9,481.4 603.7,481.4 605.5,481.5 606.3,471.8 607.8,471.2 608.6,479.0 611.0,479.7 615.0,479.0 616.7,479.1 618.3,479.0 620.0,478.9 621.7,479.2 623.3,479.1 625.0,479.0 626.7,479.0 628.3,479.3 630.0,479.4 631.7,479.8 633.3,479.8 635.0,479.7 636.7,480.3 638.3,479.8 640.0,480.2 641.7,480.1 643.3,480.4 645.0,480.0 646.7,480.2 648.3,479.9 650.0,480.3 651.7,480.4 653.3,480.3 655.0,480.5 656.7,480.1 658.3,480.3 660.0,480.2 661.7,480.3 663.3,480.3 665.0,480.2 666.7,480.5 668.3,480.6 670.0,480.3 671.7,480.4 673.3,480.0 675.0,480.5 676.7,480.5 678.3,480.7 680.0,480.4 681.8,480.6 683.5,480.3 685.2,480.4 687.0,480.6 688.8,480.2 690.5,480.5 692.2,480.3 694.0,480.3 695.8,480.3 697.5,480.6 698.5,470.0 699.8,340.3 701.0,470.0 702.5,477.7 706.0,464.2 708.5,457.2 712.0,463.2 716.0,461.6 718.0,461.8 720.0,461.3 722.0,461.6 723.6,461.7 725.2,462.0 726.9,462.6 728.5,462.4 730.1,462.9 731.8,463.2 733.4,463.7 735.0,463.7 736.7,464.0 738.3,464.2 740.0,463.9 741.7,464.1 743.3,464.2 745.0,464.6 746.7,464.8 748.3,464.3 750.0,464.7 751.7,464.6 753.3,464.8 755.0,465.0 756.7,465.3 758.3,465.5 760.0,465.5 761.7,465.4 763.3,465.9 765.0,466.1 766.7,466.1 768.3,466.4 770.0,466.8 771.7,466.7 773.3,466.7 775.0,466.8 776.7,467.0 778.3,466.7 780.0,467.1 781.6,467.4 783.2,467.4 784.8,467.6 786.4,467.6 788.0,467.4 789.6,467.4 791.2,467.3 792.8,467.7 794.4,467.4 796.0,467.5 797.6,467.6 799.2,467.7 800.8,467.9 802.4,467.7 804.0,467.8 805.6,467.9 807.2,468.0 808.8,468.2 810.4,468.1 812.0,468.7 813.6,468.6 815.2,468.3 816.8,468.5 818.4,468.6 820.0,468.8 821.7,468.8 823.3,468.7 825.0,469.3 826.7,469.5 828.3,469.3 830.0,469.4 831.7,469.2 833.3,469.3 835.0,469.6 836.7,469.6 838.3,470.1 840.0,469.8 841.7,469.8 843.3,470.5 845.0,470.3 846.7,470.2 848.3,470.5 850.0,470.6 851.7,470.3 853.3,470.7 855.0,471.1 856.7,471.1 858.3,471.0 860.0,470.9 862.0,465.7 864.0,453.4 865.5,443.7 867.5,455.1 870.0,457.8 873.0,451.6 876.0,456.0 880.0,456.0 881.7,456.1 883.3,456.4 885.0,456.5 886.7,457.2 888.3,457.3 890.0,457.7 891.7,457.6 893.3,457.8 895.0,458.5 896.7,458.8 898.3,459.0 900.0,459.0 901.7,459.5 903.3,459.7 905.0,459.9 906.7,459.8 908.3,460.2 910.0,460.4 911.7,460.4 913.3,460.6 915.0,461.1 916.7,461.3 918.3,461.8 920.0,462.3 921.7,462.2 923.3,462.8 925.0,462.7 926.6,463.3 928.2,463.5 929.8,463.4 931.5,463.5 933.1,463.8 934.7,464.0 936.3,464.3 937.9,464.8 939.5,465.3 941.2,465.5 942.8,465.5 944.4,465.9 946.0,466.0" fill="none" stroke="#b0b0b0" stroke-width="3.3" stroke-linejoin="round" stroke-linecap="round" opacity="0.7"/><polyline points="502.5,486.9 504.3,486.6 506.2,486.4 508.0,486.5 511.0,485.5 512.0,483.4 513.0,485.5 515.0,486.1 516.7,486.2 518.3,485.7 520.0,486.0 521.7,485.9 523.3,485.6 525.0,485.9 526.7,486.0 528.3,485.8 530.0,486.2 531.7,486.0 533.3,486.1 535.0,486.5 537.0,486.3 538.9,486.5 540.9,486.1 541.2,465.5 541.8,465.0 542.2,483.0 543.0,485.6 544.7,484.6 546.3,483.9 548.0,483.4 549.8,483.3 551.5,483.4 553.2,483.0 555.0,482.8 559.3,481.5 559.6,464.5 560.3,463.8 560.7,479.0 562.0,482.1 565.0,480.5 567.0,479.7 568.6,479.7 570.2,480.3 571.8,479.7 573.4,480.4 575.0,480.3 576.6,480.3 578.3,480.3 579.9,480.4 581.5,480.6 583.2,481.1 584.8,480.7 586.5,481.1 588.1,481.3 589.7,481.2 591.4,481.4 593.0,481.5 594.8,481.2 596.6,481.2 598.4,481.3 600.1,481.6 601.9,481.4 603.7,481.4 605.5,481.5 606.3,471.8 607.8,471.2 608.6,479.0 611.0,479.7 615.0,479.0 616.7,479.1 618.3,479.0 620.0,478.9 621.7,479.2 623.3,479.1 625.0,479.0 626.7,479.0 628.3,479.3 630.0,479.4 631.7,479.8 633.3,479.8 635.0,479.7 636.7,480.3 638.3,479.8 640.0,480.2 641.7,480.1 643.3,480.4 645.0,480.0 646.7,480.2 648.3,479.9 650.0,480.3 651.7,480.4 653.3,480.3 655.0,480.5 656.7,480.1 658.3,480.3 660.0,480.2 661.7,480.3 663.3,480.3 665.0,480.2 666.7,480.5 668.3,480.6 670.0,480.3 671.7,480.4 673.3,480.0 675.0,480.5 676.7,480.5 678.3,480.7 680.0,480.4 681.8,480.6 683.5,480.3 685.2,480.4 687.0,480.6 688.8,480.2 690.5,480.5 692.2,480.3 694.0,480.3 695.8,480.3 697.5,480.6 698.5,470.0 699.8,340.3 701.0,470.0 702.5,477.7 706.0,464.2 708.5,457.2 712.0,463.2 716.0,461.6 718.0,461.8 720.0,461.3 722.0,461.6 723.6,461.7 725.2,462.0 726.9,462.6 728.5,462.4 730.1,462.9 731.8,463.2 733.4,463.7 735.0,463.7 736.7,464.0 738.3,464.2 740.0,463.9 741.7,464.1 743.3,464.2 745.0,464.6 746.7,464.8 748.3,464.3 750.0,464.7 751.7,464.6 753.3,464.8 755.0,465.0 756.7,465.3 758.3,465.5 760.0,465.5 761.7,465.4 763.3,465.9 765.0,466.1 766.7,466.1 768.3,466.4 770.0,466.8 771.7,466.7 773.3,466.7 775.0,466.8 776.7,467.0 778.3,466.7 780.0,467.1 781.6,467.4 783.2,467.4 784.8,467.6 786.4,467.6 788.0,467.4 789.6,467.4 791.2,467.3 792.8,467.7 794.4,467.4 796.0,467.5 797.6,467.6 799.2,467.7 800.8,467.9 802.4,467.7 804.0,467.8 805.6,467.9 807.2,468.0 808.8,468.2 810.4,468.1 812.0,468.7 813.6,468.6 815.2,468.3 816.8,468.5 818.4,468.6 820.0,468.8 821.7,468.8 823.3,468.7 825.0,469.3 826.7,469.5 828.3,469.3 830.0,469.4 831.7,469.2 833.3,469.3 835.0,469.6 836.7,469.6 838.3,470.1 840.0,469.8 841.7,469.8 843.3,470.5 845.0,470.3 846.7,470.2 848.3,470.5 850.0,470.6 851.7,470.3 853.3,470.7 855.0,471.1 856.7,471.1 858.3,471.0 860.0,470.9 862.0,465.7 864.0,453.4 865.5,443.7 867.5,455.1 870.0,457.8 873.0,451.6 876.0,456.0 880.0,456.0 881.7,456.1 883.3,456.4 885.0,456.5 886.7,457.2 888.3,457.3 890.0,457.7 891.7,457.6 893.3,457.8 895.0,458.5 896.7,458.8 898.3,459.0 900.0,459.0 901.7,459.5 903.3,459.7 905.0,459.9 906.7,459.8 908.3,460.2 910.0,460.4 911.7,460.4 913.3,460.6 915.0,461.1 916.7,461.3 918.3,461.8 920.0,462.3 921.7,462.2 923.3,462.8 925.0,462.7 926.6,463.3 928.2,463.5 929.8,463.4 931.5,463.5 933.1,463.8 934.7,464.0 936.3,464.3 937.9,464.8 939.5,465.3 941.2,465.5 942.8,465.5 944.4,465.9 946.0,466.0" fill="none" stroke="#2a2a2a" stroke-width="1.5" stroke-linejoin="round" stroke-linecap="round"/>
<line x1="671.6" y1="169.2" x2="718" y2="169.2" stroke="#222" stroke-width="1.3"/>
<polygon points="717.5,166.9 728.5,169.2 717.5,171.5" fill="#222"/>
<text transform="translate(31.89,46.50) scale(1.08,1)" font-size="21.00" letter-spacing="1.343" fill="#303030" stroke="#303030" stroke-width="0.3">(a)</text>
<text transform="translate(509.49,46.50) scale(1.08,1)" font-size="21.00" letter-spacing="1.065" fill="#303030" stroke="#303030" stroke-width="0.3">(b)</text>
<text transform="translate(343.77,160.50) scale(1.08,1)" font-size="20.00" letter-spacing="0.833" fill="#303030" stroke="#303030" stroke-width="0.3">TiO<tspan font-size="10.00" dy="8.00">2</tspan><tspan dy="-8.00">@C/CP</tspan></text>
<text transform="translate(385.57,312.50) scale(1.08,1)" font-size="20.00" letter-spacing="0.432" fill="#303030" stroke="#303030" stroke-width="0.3">TiO<tspan font-size="10.00" dy="8.00">2</tspan><tspan dy="-8.00">/CP</tspan></text>
<text transform="translate(379.89,465.30) scale(1.08,1)" font-size="20.00" letter-spacing="0.802" fill="#303030" stroke="#303030" stroke-width="0.3">SiO<tspan font-size="10.00" dy="8.00">2</tspan><tspan dy="-8.00">/CP</tspan></text>
<text transform="translate(832.87,47.30) scale(1.08,1)" font-size="20.00" letter-spacing="0.475" fill="#303030" stroke="#303030" stroke-width="0.3">TiO<tspan font-size="10.00" dy="8.00">2</tspan><tspan dy="-8.00">@C/CP</tspan></text>
<text transform="translate(859.17,206.10) scale(1.08,1)" font-size="20.00" letter-spacing="0.586" fill="#303030" stroke="#303030" stroke-width="0.3">TiO<tspan font-size="10.00" dy="8.00">2</tspan><tspan dy="-8.00">/CP</tspan></text>
<text transform="translate(860.59,363.00) scale(1.08,1)" font-size="20.00" letter-spacing="0.448" fill="#303030" stroke="#303030" stroke-width="0.3">SiO<tspan font-size="10.00" dy="8.00">2</tspan><tspan dy="-8.00">/CP</tspan></text>
<text transform="translate(542.04,84.40) scale(1.08,1)" font-size="20.00" letter-spacing="0.401" fill="#303030" stroke="#303030" stroke-width="0.3">C 1s</text>
<text transform="translate(729.74,80.40) scale(1.08,1)" font-size="20.00" letter-spacing="0.154" fill="#303030" stroke="#303030" stroke-width="0.3">O 1s</text>
<text transform="translate(734.07,176.00) scale(1.08,1)" font-size="20.00" letter-spacing="0.301" fill="#303030" stroke="#303030" stroke-width="0.3">Ti 2p</text>
<text transform="translate(506.99,455.70) scale(1.08,1)" font-size="20.00" letter-spacing="0.069" fill="#303030" stroke="#303030" stroke-width="0.3">Si 2p</text>
<text transform="translate(198.14,561.00) scale(1.08,1)" font-size="20.00" letter-spacing="0.486" fill="#303030" stroke="#303030" stroke-width="0.3">2θ/Degree</text>
<text transform="translate(631.25,560.00) scale(1.08,1)" font-size="20.00" letter-spacing="0.370" fill="#303030" stroke="#303030" stroke-width="0.3">Binding Energy(eV)</text>
<text transform="translate(10.82,528.00) scale(1.08,1)" font-size="15.5" letter-spacing="0.725" fill="#303030" stroke="#303030" stroke-width="0.25">10</text>
<text transform="translate(67.68,528.00) scale(1.08,1)" font-size="15.5" letter-spacing="0.725" fill="#303030" stroke="#303030" stroke-width="0.25">20</text>
<text transform="translate(124.03,528.00) scale(1.08,1)" font-size="15.5" letter-spacing="0.725" fill="#303030" stroke="#303030" stroke-width="0.25">30</text>
<text transform="translate(180.72,528.00) scale(1.08,1)" font-size="15.5" letter-spacing="0.725" fill="#303030" stroke="#303030" stroke-width="0.25">40</text>
<text transform="translate(236.82,528.00) scale(1.08,1)" font-size="15.5" letter-spacing="0.725" fill="#303030" stroke="#303030" stroke-width="0.25">50</text>
<text transform="translate(293.43,528.00) scale(1.08,1)" font-size="15.5" letter-spacing="0.725" fill="#303030" stroke="#303030" stroke-width="0.25">60</text>
<text transform="translate(349.61,528.00) scale(1.08,1)" font-size="15.5" letter-spacing="0.725" fill="#303030" stroke="#303030" stroke-width="0.25">70</text>
<text transform="translate(406.30,528.00) scale(1.08,1)" font-size="15.5" letter-spacing="0.725" fill="#303030" stroke="#303030" stroke-width="0.25">80</text>
<text transform="translate(462.82,528.00) scale(1.08,1)" font-size="15.5" letter-spacing="0.725" fill="#303030" stroke="#303030" stroke-width="0.25">90</text>
<text transform="translate(497.31,528.00) scale(1.08,1)" font-size="15.5" letter-spacing="0.725" fill="#303030" stroke="#303030" stroke-width="0.25">0</text>
<text transform="translate(673.94,528.00) scale(1.08,1)" font-size="15.5" letter-spacing="0.725" fill="#303030" stroke="#303030" stroke-width="0.25">500</text>
<text transform="translate(854.27,528.00) scale(1.08,1)" font-size="15.5" letter-spacing="0.725" fill="#303030" stroke="#303030" stroke-width="0.25">1000</text>
</svg></body></html>
